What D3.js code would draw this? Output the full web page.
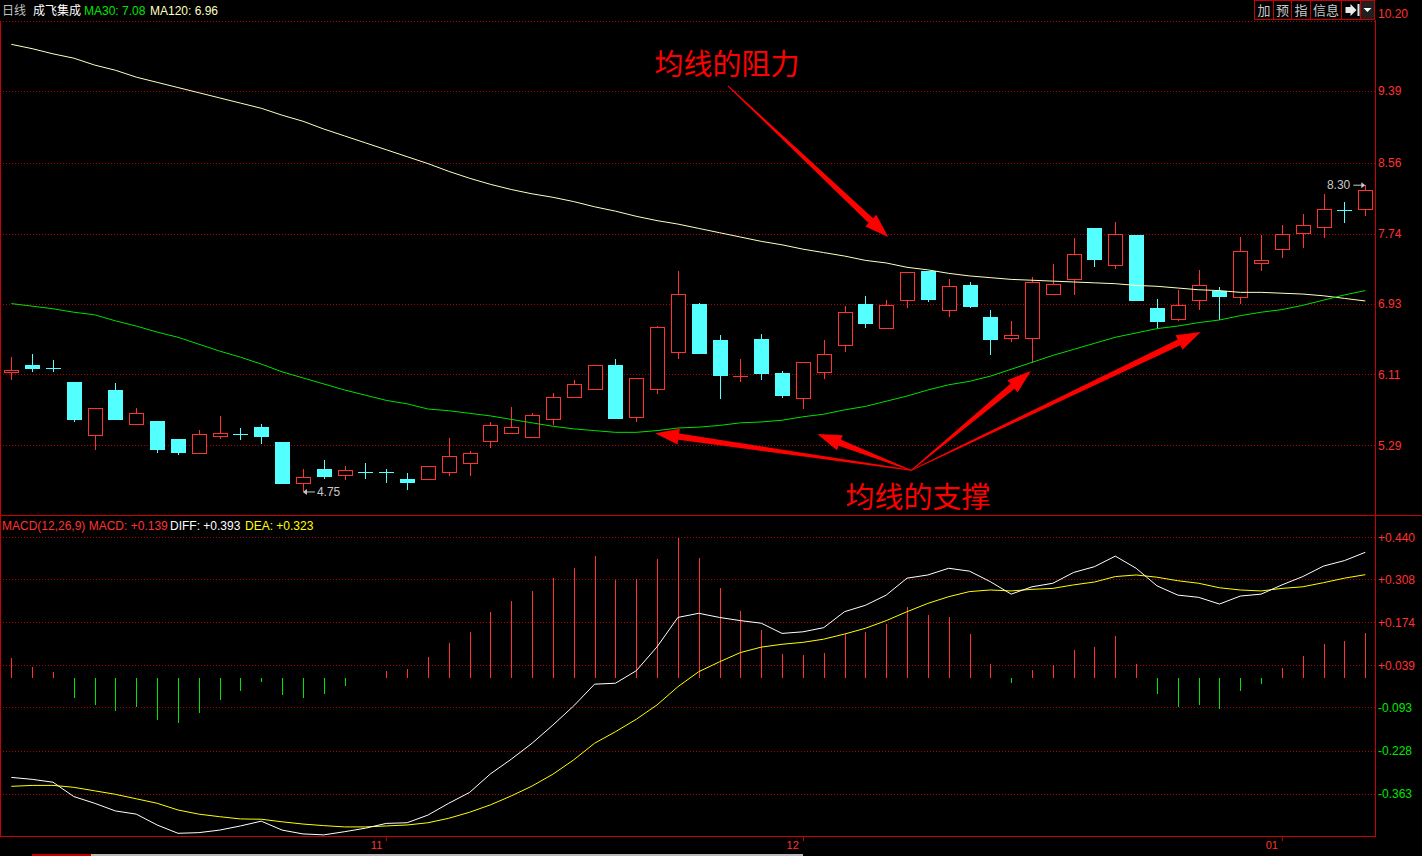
<!DOCTYPE html>
<html><head><meta charset="utf-8">
<script src="https://cdn.jsdelivr.net/npm/d3@7"></script>
<style>html,body{margin:0;padding:0;background:#000;overflow:hidden}</style>
</head><body>
<svg id="c" width="1422" height="856" xmlns="http://www.w3.org/2000/svg"></svg>
<script>
// ---------------- DATA ----------------
const opens  = [6.14,6.22,6.19,6.02,5.41,5.93,5.53,5.57,5.36,5.20,5.40,5.42,5.50,5.33,4.85,5.02,4.94,4.99,4.99,4.90,4.90,4.98,5.08,5.34,5.43,5.38,5.59,5.85,5.94,6.22,5.62,5.94,6.37,6.93,6.51,6.09,6.52,6.13,5.83,6.14,6.45,6.93,6.64,6.98,7.31,6.85,7.14,6.77,6.54,6.53,7.04,7.21,7.80,7.38,7.72,6.88,6.75,6.98,7.08,7.01,7.40,7.57,7.75,7.82,8.02,8.03];
const highs  = [6.31,6.35,6.28,6.02,5.72,6.01,5.72,5.57,5.36,5.47,5.63,5.49,5.54,5.33,5.02,5.12,5.05,5.08,5.02,4.97,5.05,5.37,5.22,5.56,5.73,5.66,5.89,6.05,6.22,6.29,6.07,6.67,7.31,6.94,6.57,6.29,6.58,6.15,6.25,6.51,6.90,7.02,6.97,7.30,7.31,7.22,7.18,6.86,6.73,7.24,7.39,7.69,7.80,7.87,7.72,6.98,7.09,7.32,7.12,7.70,7.72,7.84,7.97,8.20,8.11,8.30];
const lows   = [6.04,6.14,6.14,5.56,5.24,5.58,5.53,5.20,5.18,5.20,5.36,5.35,5.31,4.84,4.75,4.90,4.89,4.90,4.85,4.77,4.89,4.93,4.93,5.26,5.43,5.38,5.53,5.85,5.93,5.59,5.56,5.88,6.29,6.35,5.83,6.02,6.05,5.84,5.71,6.06,6.37,6.65,6.64,6.88,6.95,6.78,6.88,6.33,6.48,6.24,7.04,7.03,7.35,7.33,6.96,6.64,6.73,6.85,6.74,6.93,7.31,7.46,7.57,7.69,7.86,7.94];
const closes = [6.16,6.17,6.18,5.58,5.72,5.58,5.66,5.23,5.20,5.42,5.43,5.41,5.38,4.84,4.92,4.93,5.00,4.98,4.98,4.85,5.05,5.17,5.20,5.52,5.50,5.64,5.85,6.00,6.22,5.59,6.07,6.66,7.04,6.35,6.09,6.10,6.11,5.86,6.25,6.35,6.83,6.70,6.91,7.30,6.97,7.13,6.88,6.50,6.57,7.18,7.16,7.50,7.43,7.74,6.96,6.72,6.91,7.15,7.01,7.54,7.43,7.74,7.84,8.03,8.01,8.25];
const ma30   = [6.93,6.90,6.87,6.83,6.80,6.73,6.67,6.60,6.54,6.46,6.38,6.31,6.23,6.14,6.07,6.00,5.93,5.87,5.81,5.77,5.71,5.69,5.66,5.63,5.59,5.55,5.51,5.48,5.46,5.44,5.44,5.46,5.49,5.50,5.52,5.55,5.56,5.58,5.62,5.65,5.70,5.74,5.80,5.86,5.93,5.99,6.03,6.09,6.17,6.25,6.33,6.40,6.47,6.54,6.59,6.64,6.67,6.71,6.74,6.79,6.83,6.86,6.91,6.97,7.03,7.08];
const ma120  = [9.93,9.88,9.82,9.77,9.69,9.63,9.55,9.49,9.43,9.37,9.31,9.25,9.19,9.11,9.04,8.95,8.87,8.79,8.71,8.63,8.55,8.46,8.38,8.31,8.25,8.20,8.16,8.11,8.05,8.00,7.94,7.89,7.85,7.80,7.75,7.70,7.65,7.61,7.56,7.52,7.48,7.43,7.40,7.35,7.32,7.28,7.25,7.23,7.21,7.20,7.19,7.18,7.17,7.16,7.14,7.13,7.11,7.09,7.08,7.06,7.06,7.05,7.04,7.02,6.99,6.96];
const macdHist = [0.063,0.035,0.019,-0.062,-0.084,-0.103,-0.093,-0.131,-0.143,-0.109,-0.071,-0.040,-0.012,-0.055,-0.062,-0.052,-0.025,-0.002,0.022,0.029,0.066,0.110,0.144,0.207,0.241,0.272,0.313,0.344,0.382,0.306,0.309,0.373,0.438,0.376,0.282,0.210,0.150,0.075,0.072,0.078,0.137,0.144,0.169,0.222,0.197,0.190,0.138,0.044,-0.016,0.025,0.041,0.088,0.097,0.132,0.044,-0.052,-0.090,-0.084,-0.097,-0.040,-0.021,0.032,0.069,0.106,0.116,0.139];
const diffLine = [-0.312,-0.318,-0.327,-0.372,-0.393,-0.417,-0.427,-0.461,-0.487,-0.485,-0.477,-0.464,-0.449,-0.477,-0.489,-0.492,-0.482,-0.471,-0.456,-0.454,-0.430,-0.393,-0.359,-0.301,-0.255,-0.205,-0.148,-0.088,-0.020,-0.017,0.022,0.097,0.189,0.202,0.189,0.179,0.171,0.139,0.144,0.157,0.207,0.227,0.259,0.312,0.322,0.343,0.334,0.301,0.262,0.285,0.296,0.330,0.348,0.381,0.343,0.288,0.259,0.252,0.231,0.256,0.262,0.291,0.317,0.350,0.367,0.393];
const deaLine  = [-0.340,-0.337,-0.337,-0.343,-0.354,-0.365,-0.379,-0.393,-0.414,-0.427,-0.435,-0.442,-0.443,-0.451,-0.458,-0.463,-0.467,-0.467,-0.464,-0.461,-0.454,-0.440,-0.421,-0.398,-0.370,-0.339,-0.302,-0.257,-0.205,-0.169,-0.130,-0.085,-0.028,0.019,0.050,0.079,0.096,0.105,0.111,0.121,0.137,0.155,0.179,0.207,0.233,0.254,0.270,0.275,0.272,0.277,0.280,0.291,0.300,0.317,0.322,0.315,0.304,0.296,0.282,0.275,0.272,0.280,0.285,0.298,0.312,0.323];
const priceTicks = [10.20, 9.39, 8.56, 7.74, 6.93, 6.11, 5.29];
const macdTicks  = [0.440, 0.308, 0.174, 0.039, -0.093, -0.228, -0.363];
const monthTickIdx = [18, 38, 61];
const monthLabels  = ["11", "12", "01"];
// annotation anchors in data space: [index, price]
const resistArrow = [[34.4, 9.45], [42.1, 7.70]];
const supportTail = [43.2, 5.00];
const supportTips = [[30.9, 5.43], [38.7, 5.42], [48.95, 6.15], [57.1, 6.60]];

// ---------------- SETUP ----------------
const W = 1422, H = 856;
const RIGHT = 1375.5;
const RED = "#ff3232", CYAN = "#54ffff", GRID = "#b00000", BORDER = "#c80000";
const FONT = "'Liberation Sans', Arial, 'Noto Sans CJK SC', sans-serif";
const CJK = "'Noto Sans CJK SC', sans-serif";
const svg = d3.select("#c");
svg.append("rect").attr("width", W).attr("height", H).attr("fill", "#000");

const n = closes.length;
const xb = d3.scaleBand().domain(d3.range(n)).range([0.9, 1375.7]).padding(0);
const cx = i => xb(i) + xb.bandwidth() / 2;
const xi = d3.scaleLinear().domain([0, n - 1]).range([cx(0), cx(n - 1)]);
const yP = d3.scaleLinear().domain([5.29, 10.20]).range([445.3, 21]);
const yM = d3.scaleLinear().domain([-0.363, 0.440]).range([793.7, 537.3]);

// ---------------- GRID ----------------
const g = svg.append("g").attr("shape-rendering", "crispEdges");
g.selectAll(".pg").data(priceTicks).join("line")
  .attr("x1", 0).attr("x2", RIGHT).attr("y1", d => Math.round(yP(d)) + 0.5).attr("y2", d => Math.round(yP(d)) + 0.5)
  .attr("stroke", GRID).attr("stroke-dasharray", "1,2");
g.selectAll(".mg").data(macdTicks).join("line")
  .attr("x1", 0).attr("x2", RIGHT).attr("y1", d => Math.round(yM(d)) + 0.5).attr("y2", d => Math.round(yM(d)) + 0.5)
  .attr("stroke", GRID).attr("stroke-dasharray", "1,2");

// borders
const b = svg.append("g").attr("shape-rendering", "crispEdges").attr("stroke", BORDER);
b.append("line").attr("x1", 0.5).attr("x2", 0.5).attr("y1", 21).attr("y2", 837);
b.append("line").attr("x1", RIGHT).attr("x2", RIGHT).attr("y1", 20).attr("y2", 837);
b.append("line").attr("x1", 0).attr("x2", W).attr("y1", 515.5).attr("y2", 515.5);
b.append("line").attr("x1", 0).attr("x2", RIGHT).attr("y1", 836.5).attr("y2", 836.5);
// month ticks
b.selectAll(".mt").data(monthTickIdx).join("line")
  .attr("x1", d => Math.round(cx(d)) + 0.5).attr("x2", d => Math.round(cx(d)) + 0.5)
  .attr("y1", 836).attr("y2", 841);
svg.selectAll(".ml").data(monthTickIdx).join("text")
  .attr("x", d => cx(d) - 4).attr("y", 849).attr("text-anchor", "end")
  .attr("fill", RED).attr("font-family", FONT).attr("font-size", 11)
  .text((d, k) => monthLabels[k]);

// axis labels
svg.selectAll(".pl").data(priceTicks).join("text")
  .attr("x", 1378).attr("y", (d, k) => k === 0 ? 18 : yP(d) + 4.5)
  .attr("fill", RED).attr("font-family", FONT).attr("font-size", 12)
  .text(d => d.toFixed(2));
svg.selectAll(".mlb").data(macdTicks).join("text")
  .attr("x", 1378).attr("y", d => yM(d) + 4.5)
  .attr("fill", d => d >= 0 ? RED : "#00e600").attr("font-family", FONT).attr("font-size", 12)
  .text(d => (d >= 0 ? "+" : "") + d.toFixed(3));

// ---------------- CANDLES ----------------
const cg = svg.append("g").attr("shape-rendering", "crispEdges");
d3.range(n).forEach(i => {
  const o = opens[i], c = closes[i], h = highs[i], l = lows[i];
  const up = c >= o;
  const col = up ? RED : CYAN;
  const x = Math.round(cx(i));
  const yT = yP(Math.max(o, c)), yB = yP(Math.min(o, c));
  const yH = yP(h), yL = yP(l);
  const hgt = yB - yT;
  if (hgt < 1.2) {
    const yy = Math.round((yT + yB) / 2);
    cg.append("line").attr("x1", x + 0.5).attr("x2", x + 0.5).attr("y1", yH).attr("y2", yL).attr("stroke", col);
    cg.append("rect").attr("x", x - 7).attr("y", yy).attr("width", 15).attr("height", Math.max(1, Math.round(hgt)))
      .attr("fill", col);
  } else if (up) {
    cg.append("line").attr("x1", x + 0.5).attr("x2", x + 0.5).attr("y1", yH).attr("y2", yT).attr("stroke", col);
    cg.append("line").attr("x1", x + 0.5).attr("x2", x + 0.5).attr("y1", yB).attr("y2", yL).attr("stroke", col);
    cg.append("rect").attr("x", x - 6.5).attr("y", Math.round(yT) + 0.5).attr("width", 14).attr("height", Math.round(hgt))
      .attr("fill", "#000").attr("stroke", col);
  } else {
    cg.append("line").attr("x1", x + 0.5).attr("x2", x + 0.5).attr("y1", yH).attr("y2", yL).attr("stroke", col);
    cg.append("rect").attr("x", x - 7).attr("y", Math.round(yT)).attr("width", 15).attr("height", Math.round(hgt))
      .attr("fill", col);
  }
});

// MA lines
const lineP = d3.line().x((d, i) => cx(i)).y(d => yP(d));
svg.append("path").datum(ma120).attr("d", lineP).attr("fill", "none").attr("stroke", "#ffffc0").attr("stroke-width", 1);
svg.append("path").datum(ma30).attr("d", lineP).attr("fill", "none").attr("stroke", "#00e000").attr("stroke-width", 1);

// high/low markers
const iMax = d3.maxIndex(highs), iMin = d3.minIndex(lows);
const mk = svg.append("g").attr("font-family", FONT).attr("font-size", 12).attr("fill", "#c8c8c8");
{
  const x = cx(iMax), y = yP(highs[iMax]);
  mk.append("text").attr("x", x - 15).attr("y", y + 4).attr("text-anchor", "end").text(highs[iMax].toFixed(2));
  mk.append("line").attr("x1", x - 12).attr("x2", x - 2).attr("y1", y).attr("y2", y).attr("stroke", "#c8c8c8");
  mk.append("path").attr("d", `M${x},${y}L${x - 4},${y - 3}L${x - 4},${y + 3}Z`);
}
{
  const x = cx(iMin), y = yP(lows[iMin]);
  mk.append("text").attr("x", x + 14).attr("y", y + 4).text(lows[iMin].toFixed(2));
  mk.append("line").attr("x1", x + 2).attr("x2", x + 12).attr("y1", y).attr("y2", y).attr("stroke", "#c8c8c8");
  mk.append("path").attr("d", `M${x},${y}L${x + 4},${y - 3}L${x + 4},${y + 3}Z`);
}

// ---------------- MACD ----------------
const hg = svg.append("g").attr("shape-rendering", "crispEdges");
hg.selectAll("line").data(macdHist).join("line")
  .attr("x1", (d, i) => Math.round(cx(i)) + 0.5).attr("x2", (d, i) => Math.round(cx(i)) + 0.5)
  .attr("y1", yM(0)).attr("y2", d => yM(d))
  .attr("stroke", d => d >= 0 ? RED : "#00e600");
const lineM = d3.line().x((d, i) => cx(i)).y(d => yM(d));
svg.append("path").datum(deaLine).attr("d", lineM).attr("fill", "none").attr("stroke", "#ffff00");
svg.append("path").datum(diffLine).attr("d", lineM).attr("fill", "none").attr("stroke", "#ffffff");

// ---------------- HEADERS ----------------
const hd = svg.append("g").attr("font-family", FONT).attr("font-size", 12);
hd.append("text").attr("x", 2).attr("y", 15).attr("fill", "#c0c0c0").text("日线");
hd.append("text").attr("x", 33).attr("y", 15).attr("fill", "#ffffff").text("成飞集成");
hd.append("text").attr("x", 84).attr("y", 15).attr("fill", "#00e600").text("MA30: " + ma30[n - 1].toFixed(2));
hd.append("text").attr("x", 150).attr("y", 15).attr("fill", "#ffffc0").text("MA120: " + ma120[n - 1].toFixed(2));
const fmt = v => (v >= 0 ? "+" : "") + v.toFixed(3);
hd.append("text").attr("x", 2).attr("y", 530).attr("fill", RED).text("MACD(12,26,9) MACD: " + fmt(macdHist[n - 1]));
hd.append("text").attr("x", 170).attr("y", 530).attr("fill", "#ffffff").text("DIFF: " + fmt(diffLine[n - 1]));
hd.append("text").attr("x", 245).attr("y", 530).attr("fill", "#ffff00").text("DEA: " + fmt(deaLine[n - 1]));

// buttons
const btnEdges = [1254.5, 1273.5, 1291.5, 1310.5, 1341.5, 1360.5, 1374.5];
const btnLabels = ["加", "预", "指", "信息", "", ""];
const bt = svg.append("g");
btnLabels.forEach((t, k) => {
  bt.append("rect").attr("x", btnEdges[k]).attr("y", 0.5).attr("width", btnEdges[k + 1] - btnEdges[k]).attr("height", 19)
    .attr("fill", k === 5 ? "#202020" : "#000").attr("stroke", BORDER).attr("shape-rendering", "crispEdges");
  if (t) bt.append("text").attr("x", (btnEdges[k] + btnEdges[k + 1]) / 2).attr("y", 15).attr("text-anchor", "middle")
    .attr("fill", "#c8c8c8").attr("font-family", CJK).attr("font-size", 13).text(t);
});
{
  const x0 = btnEdges[4] + 4;
  bt.append("path").attr("d", `M${x0},7 h5 v-3 l6,6 l-6,6 v-3 h-5 Z`).attr("fill", "#e8e8e8");
  bt.append("rect").attr("x", x0 + 12).attr("y", 4).attr("width", 2).attr("height", 12).attr("fill", "#e8e8e8");
  const x1 = (btnEdges[5] + btnEdges[6]) / 2;
  bt.append("path").attr("d", `M${x1 - 4},8 L${x1 + 4},8 L${x1},12 Z`).attr("fill", "#ffffff");
}

// bottom tab strip
svg.append("rect").attr("x", 32).attr("y", 854).attr("width", 59).attr("height", 2).attr("fill", "#c00000");
svg.append("rect").attr("x", 91).attr("y", 854).attr("width", 712).attr("height", 2).attr("fill", "#b8b8b8");

// ---------------- ANNOTATIONS ----------------
function arrow(p1, p2) {
  const x1 = xi(p1[0]), y1 = yP(p1[1]), x2 = xi(p2[0]), y2 = yP(p2[1]);
  const dx = x2 - x1, dy = y2 - y1, L = Math.hypot(dx, dy);
  const ux = dx / L, uy = dy / L, nx = -uy, ny = ux;
  const hl = 24, hw = 8, bw = 3.2, tw = 0.5;
  const bx = x2 - ux * hl, by = y2 - uy * hl;
  const pts = [
    [x1 + nx * tw, y1 + ny * tw], [bx + nx * bw, by + ny * bw], [bx + nx * hw, by + ny * hw], [x2, y2],
    [bx - nx * hw, by - ny * hw], [bx - nx * bw, by - ny * bw], [x1 - nx * tw, y1 - ny * tw]
  ];
  svg.append("path").attr("d", "M" + pts.map(p => p.join(",")).join("L") + "Z").attr("fill", "#ff0000");
}
arrow(resistArrow[0], resistArrow[1]);
supportTips.forEach(t => arrow(supportTail, t));
svg.append("text").attr("x", 727).attr("y", 75).attr("text-anchor", "middle").attr("fill", "#ff0000")
  .attr("font-family", CJK).attr("font-size", 29).text("均线的阻力");
svg.append("text").attr("x", 918).attr("y", 508).attr("text-anchor", "middle").attr("fill", "#ff0000")
  .attr("font-family", CJK).attr("font-size", 29).text("均线的支撑");
</script>
</body></html>
